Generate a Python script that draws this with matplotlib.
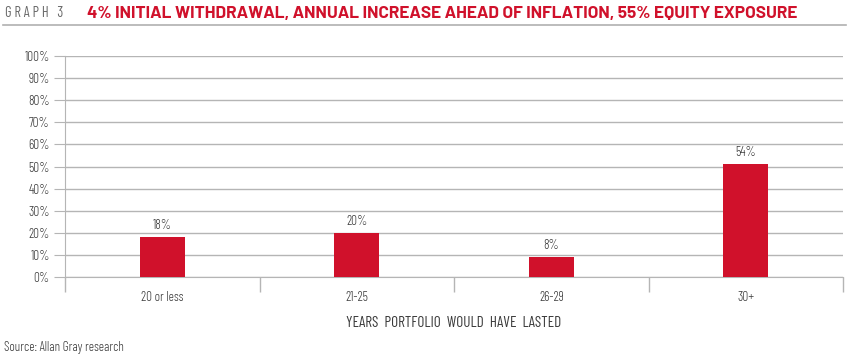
import matplotlib
matplotlib.use("Agg")
import matplotlib.pyplot as plt
from matplotlib.lines import Line2D

categories = ["20 or less", "21-25", "26-29", "30+"]
bar_heights = [18, 20, 9, 51]
bar_labels = ["18%", "20%", "8%", "54%"]
y_ticks = [0, 10, 20, 30, 40, 50, 60, 70, 80, 90, 100]

FONT = ["Barlow Condensed", "DejaVu Sans"]
plt.rcParams["font.family"] = FONT
plt.rcParams["font.weight"] = 300

RED = "#d0112b"
GRID = "#b5b5b5"
TXT = "#3a3a3a"

fig = plt.figure(figsize=(8.5, 3.59), dpi=100)
ax = fig.add_axes([65 / 850, (359 - 277) / 359, (843 - 65) / 850, (277 - 56) / 359])

x = list(range(len(categories)))
ax.bar(x, bar_heights, width=0.23, color=RED, zorder=3)
for xi, h, lab in zip(x, bar_heights, bar_labels):
    ax.text(xi, h + 2.3, lab, ha="center", va="bottom", fontsize=9.5, color=TXT, fontweight=300)

ax.set_xlim(-0.5, len(categories) - 0.5)
ax.set_ylim(0, 100)
ax.set_yticks(y_ticks)
ax.set_yticklabels([f"{v}%" for v in y_ticks], fontsize=9.5, color=TXT, fontweight=300)
ax.yaxis.grid(True, color=GRID, linewidth=1)
ax.set_axisbelow(True)
ax.tick_params(axis="y", length=8, color=GRID, pad=3)

ax.set_xticks(x)
ax.set_xticklabels(categories, fontsize=9.5, color=TXT, fontweight=300)
ax.tick_params(axis="x", which="major", length=0, pad=10)
ax.set_xticks([i - 0.5 for i in range(len(categories) + 1)], minor=True)
ax.tick_params(axis="x", which="minor", length=11, color=GRID, width=1)

ax.spines["top"].set_visible(False)
ax.spines["right"].set_visible(False)
ax.spines["left"].set_color(GRID)
ax.spines["bottom"].set_color(GRID)

ax.set_xlabel("YEARS  PORTFOLIO  WOULD  HAVE  LASTED",
              fontsize=11, color=TXT, labelpad=9, fontweight=400)

fig.text(5 / 850, 1 - 13 / 359, "G R A P H   3", fontsize=10.5, color="#6a6a6a", va="center",
         ha="left", fontweight=400)
fig.text(87 / 850, 1 - 13 / 359,
         "4% INITIAL WITHDRAWAL, ANNUAL INCREASE AHEAD OF INFLATION, 55% EQUITY EXPOSURE",
         fontsize=12.4, color=RED, fontweight=700, va="center", ha="left",
         family=["Barlow", "Open Sans", "DejaVu Sans"])
fig.add_artist(Line2D([3 / 850, 846 / 850], [1 - 25 / 359, 1 - 25 / 359],
                      color="#b0b0b0", linewidth=1.2, transform=fig.transFigure))
fig.text(4 / 850, 1 - 347 / 359, "Source: Allan Gray research", fontsize=9.5, color=TXT,
         va="center", ha="left", fontweight=300)

fig.savefig("out.png", dpi=100)
